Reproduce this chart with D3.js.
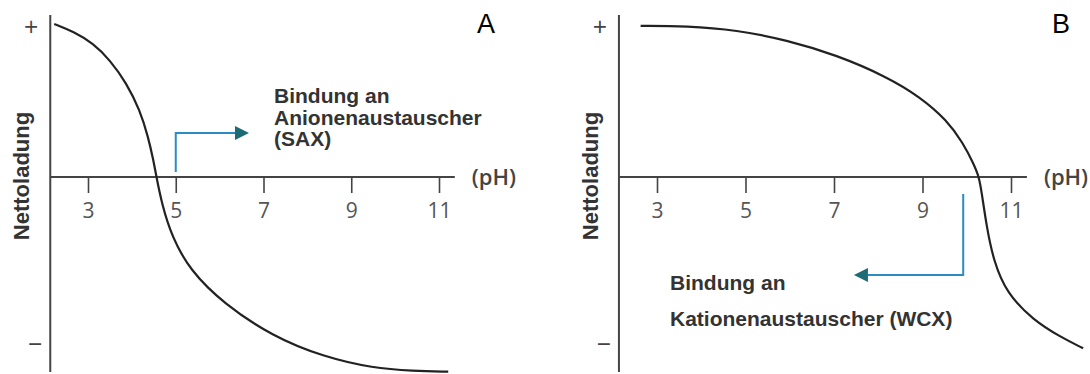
<!DOCTYPE html>
<html>
<head>
<meta charset="utf-8">
<title>Nettoladung vs pH</title>
<script src="https://d3js.org/d3.v7.min.js"></script>
<style>
  body { margin: 0; background: #fff; }
  svg { display: block; }
  .note { font-family: "Liberation Sans", Arial, sans-serif; font-weight: bold; font-size: 21px; fill: #333; }
</style>
</head>
<body>
<div id="chart"></div>
<script>
// x ticks (pH) and y markers (net charge, arbitrary units)
var phTicks = [3, 5, 7, 9, 11];
var chargeTicks = [1, -1.11];
var chargeLabels = ["+", "\u2212"];

// curve A: strong anion exchanger case (pI ~4.6)
var phA  = [2.23, 2.67, 3.12, 3.50, 3.88, 4.18, 4.37, 4.49, 4.56, 4.68, 4.91, 5.32, 6.08, 7.22, 8.36, 9.50, 10.41, 11.21];
var netA = [1.02, 0.969, 0.891, 0.78, 0.625, 0.447, 0.269, 0.113, 0, -0.175, -0.398, -0.62, -0.842, -1.065, -1.198, -1.275, -1.293, -1.298];

// curve B: weak cation exchanger case (pI ~10.3)
var phB  = [2.63, 3.67, 4.80, 5.93, 7.06, 8.19, 8.94, 9.55, 9.92, 10.15, 10.28, 10.34, 10.45, 10.60, 10.90, 11.50, 12.11, 12.63];
var netB = [1.007, 1.007, 0.98, 0.913, 0.813, 0.669, 0.535, 0.38, 0.225, 0.091, 0, -0.109, -0.331, -0.553, -0.775, -0.953, -1.065, -1.142];

// arrows: [pH start, charge start, charge corner, pH end]
var arrowA = [5, 0.033, 0.293, 6.67];
var arrowB = [9.92, -0.113, -0.653, 7.45];

var notesA = ["Bindung an", "Anionenaustauscher", "(SAX)"];
var notesB = ["Bindung an", "Kationenaustauscher (WCX)"];

var width = 1090, height = 374;

var svg = d3.select("#chart").append("svg")
    .attr("width", width)
    .attr("height", height);

var y = d3.scaleLinear().domain([0, 1]).range([177, 27]);

var panels = [
  { name: "A", range: [88, 439], ph: phA, net: netA, arrow: arrowA, notes: notesA,
    noteX: 274, noteY: [103, 125, 146], letterX: 477 },
  { name: "B", range: [657, 1011], ph: phB, net: netB, arrow: arrowB, notes: notesB,
    noteX: 670, noteY: [290, 326], letterX: 1052 }
];

panels.forEach(function(p) {
  var x = d3.scaleLinear().domain([3, 11]).range(p.range);
  var g = svg.append("g");
  var x0 = x(2.14), x1 = x(11.36);

  // axes lines
  g.append("line")
    .attr("x1", x0).attr("x2", x0)
    .attr("y1", y(1.08)).attr("y2", y(-1.30))
    .attr("stroke", "#444").attr("stroke-width", 2);
  g.append("line")
    .attr("x1", x0).attr("x2", x1)
    .attr("y1", y(0)).attr("y2", y(0))
    .attr("stroke", "#444").attr("stroke-width", 2);

  var ax = g.append("g")
    .attr("transform", "translate(0," + y(0) + ")")
    .call(d3.axisBottom(x).tickValues(phTicks).tickSize(16).tickSizeOuter(0));
  ax.select(".domain").remove();
  ax.selectAll(".tick line").attr("stroke", "#444").attr("stroke-width", 1.6);
  ax.selectAll(".tick text")
    .attr("y", 41).attr("dy", null)
    .attr("fill", "#555")
    .style("font-family", "Open Sans, sans-serif")
    .style("font-size", "21px");

  g.append("text")
    .attr("x", x1 + 17).attr("y", y(0) + 8)
    .style("font-family", "Open Sans, sans-serif")
    .style("font-size", "22px")
    .style("font-weight", 600)
    .attr("fill", "#444")
    .text("(pH)");

  // + / - markers
  g.selectAll(".ct").data(chargeTicks).enter().append("text")
    .attr("x", function(d, i) { return x0 - (i === 0 ? 19 : 15); })
    .attr("y", function(d) { return y(d) + 9; })
    .attr("text-anchor", "middle")
    .style("font-family", "Open Sans, sans-serif")
    .style("font-size", "25px")
    .attr("fill", "#444")
    .text(function(d, i) { return chargeLabels[i]; });

  // y label
  g.append("text")
    .attr("transform", "translate(" + (x0 - 21) + ",176) rotate(-90)")
    .attr("text-anchor", "middle")
    .style("font-family", "Liberation Sans, Arial, sans-serif")
    .style("font-weight", "bold")
    .style("font-size", "22px")
    .attr("fill", "#333")
    .text("Nettoladung");

  // curve
  var line = d3.line()
    .x(function(d, i) { return x(p.ph[i]); })
    .y(function(d, i) { return y(p.net[i]); })
    .curve(d3.curveBasis);
  g.append("path")
    .datum(p.ph)
    .attr("d", line)
    .attr("fill", "none")
    .attr("stroke", "#222")
    .attr("stroke-width", 2.2);

  // arrow
  var a = p.arrow, dir = a[3] > a[0] ? 1 : -1;
  var ax0 = x(a[0]), ay0 = y(a[1]), ay1 = y(a[2]), tip = x(a[3]);
  var base = tip - dir * 14;
  g.append("path")
    .attr("d", "M" + ax0 + "," + ay0 + "V" + ay1 + "H" + base)
    .attr("fill", "none")
    .attr("stroke", "#2b8cc4")
    .attr("stroke-width", 2);
  g.append("path")
    .attr("d", "M" + tip + "," + ay1 + "L" + base + "," + (ay1 - 7) + "L" + base + "," + (ay1 + 7) + "Z")
    .attr("fill", "#1d6b74");

  // notes
  g.selectAll(".note").data(p.notes).enter().append("text")
    .attr("class", "note")
    .attr("x", p.noteX)
    .attr("y", function(d, i) { return p.noteY[i]; })
    .text(function(d) { return d; });

  g.append("text")
    .attr("x", p.letterX).attr("y", 33)
    .style("font-family", "Liberation Sans, Arial, sans-serif")
    .style("font-size", "27px")
    .attr("fill", "#000")
    .text(p.name);
});
</script>
</body>
</html>
